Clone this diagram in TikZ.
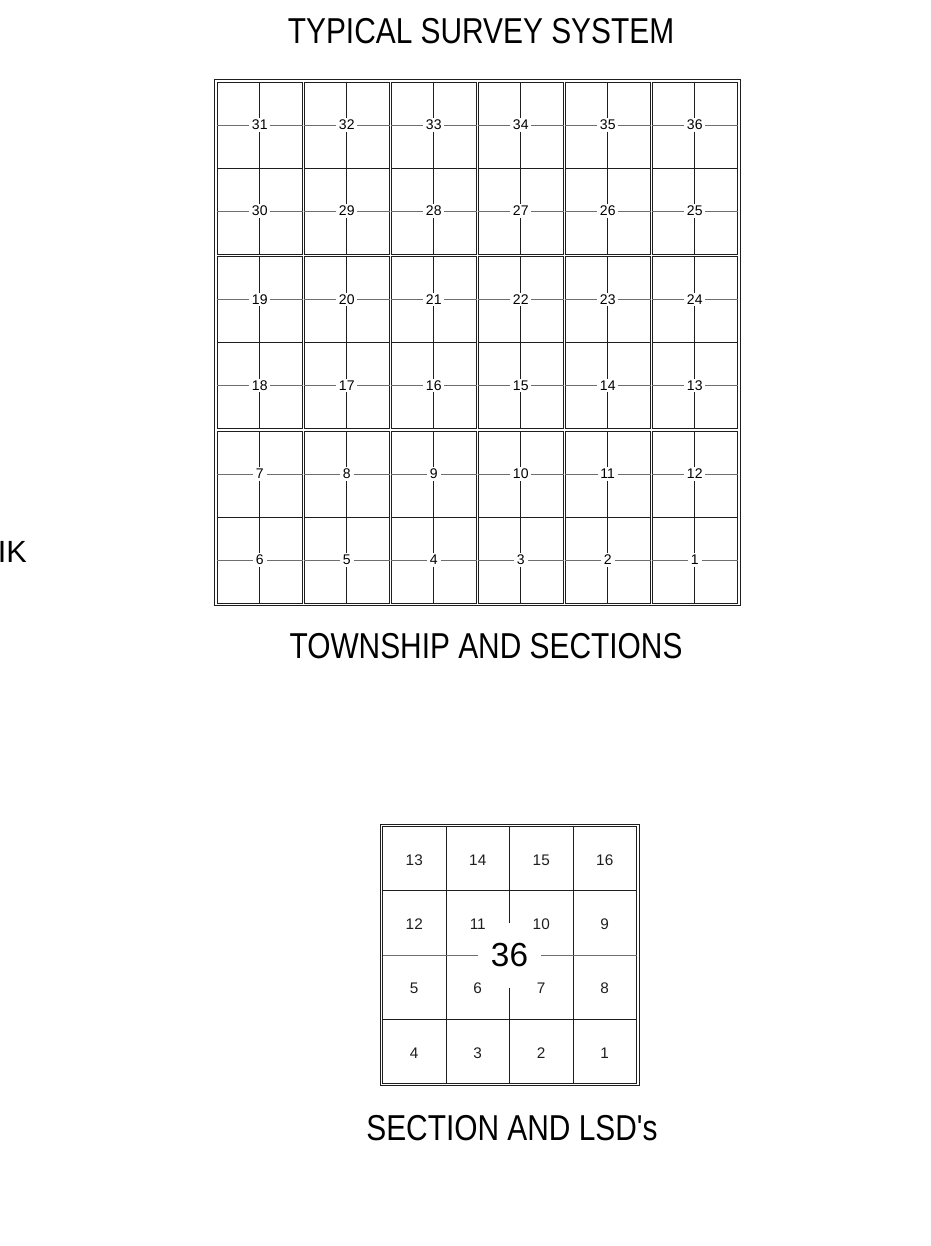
\documentclass[tikz,border=0pt]{standalone}
\usepackage{fontspec}
\setmainfont{Liberation Sans}
\newfontfamily\surveynarrow[FakeStretch=0.83]{Liberation Sans}
\usepackage{tikz}
\usetikzlibrary{positioning}
\definecolor{surveyink}{HTML}{1E1E1E}
\definecolor{surveygrey}{HTML}{6E6E6E}

\begin{document}
\begin{tikzpicture}[
  x=0.75pt,y=-0.75pt,
  heading/.style={font=\surveynarrow\fontsize{27}{30}\selectfont,inner sep=0pt},
  secnum/.style={font=\fontsize{10.5}{12}\selectfont,inner xsep=2pt,inner ysep=1.2pt},
  lsdnum/.style={font=\fontsize{11.5}{13}\selectfont,inner sep=0pt,surveyink},
  boxline/.style={draw=surveyink,line width=0.6pt},
  quarter/.style={draw=surveyink,line width=0.45pt},
  halfline/.style={draw=surveygrey,line width=0.55pt}
]
\useasboundingbox (0,0) rectangle (931,1246);

\node[heading] (title) at (481,31) {TYPICAL SURVEY SYSTEM};
\node[heading] (townshiplabel) at (486,646) {TOWNSHIP AND SECTIONS};
\node[heading] (sectionlabel) at (512,1128.5) {SECTION AND LSD's};
\node[font=\fontsize{23}{26}\selectfont,inner sep=0pt,anchor=east] (edgelabel) at (27,552) {IK};

\draw[boxline] (214,79) rectangle (740,605.5);
\foreach \col in {0,...,5}
  \foreach \band in {0,1,2}{
    \draw[boxline] (217+87*\col,82+174.5*\band) rectangle ++(85.5,172);
    \draw[boxline] (217+87*\col,168+174.5*\band) -- ++(85.5,0);
  }

\foreach \num [count=\k from 0] in {31,32,33,34,35,36,30,29,28,27,26,25,19,20,21,22,23,24,18,17,16,15,14,13,7,8,9,10,11,12,6,5,4,3,2,1}{
  \pgfmathsetmacro{\sx}{259.75+87*mod(\k,6)}
  \pgfmathsetmacro{\sy}{125+174.5*floor(floor(\k/6)/2)+86*mod(floor(\k/6),2)}
  \node[secnum] (s\num) at (\sx,\sy) {\num};
  \draw[quarter] (s\num.north) -- (\sx,\sy-43);
  \draw[quarter] (s\num.south) -- (\sx,\sy+43);
  \draw[halfline] (s\num.west) -- (\sx-42.75,\sy);
  \draw[halfline] (s\num.east) -- (\sx+42.75,\sy);
}

\draw[boxline] (380,824) rectangle (639,1085.5);
\draw[boxline] (382.5,826.5) rectangle (636.5,1083);
\draw[boxline] (446,826.5) -- (446,1083);
\draw[boxline] (573,826.5) -- (573,1083);
\draw[boxline] (382.5,890.6) -- (636.5,890.6);
\draw[boxline] (382.5,1018.9) -- (636.5,1018.9);

\node[font=\fontsize{25}{28}\selectfont,inner sep=0pt,minimum width=46.5pt,minimum height=48pt] (lsdsec) at (509.5,955.5) {36};
\draw[quarter] (lsdsec.north) -- (509.5,826.5);
\draw[quarter] (lsdsec.south) -- (509.5,1083);
\draw[halfline] (lsdsec.west) -- (382.5,955.5);
\draw[halfline] (lsdsec.east) -- (636.5,955.5);

\foreach \lsd [count=\k from 0] in {13,14,15,16,12,11,10,9,5,6,7,8,4,3,2,1}
  \node[lsdnum] (l\lsd) at ({414.25+63.5*mod(\k,4)},{860+64.3*floor(\k/4)}) {\lsd};
\end{tikzpicture}
\end{document}
